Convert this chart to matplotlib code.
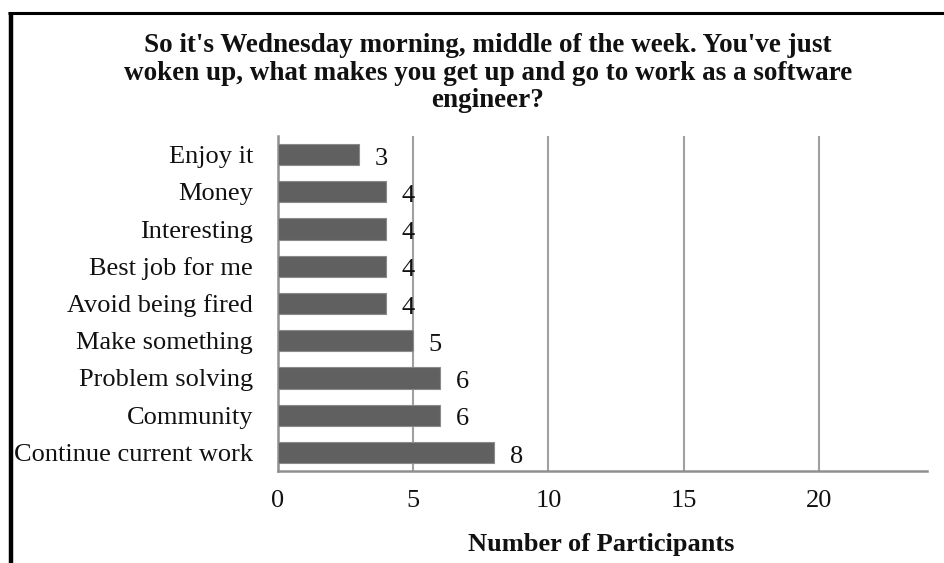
import matplotlib
matplotlib.use("Agg")
import matplotlib.pyplot as plt
from matplotlib.lines import Line2D

plt.rcParams['font.family'] = ['Liberation Serif', 'DejaVu Serif']

# Survey responses, listed top to bottom as shown
reasons = ["Enjoy it", "Money", "Interesting", "Best job for me", "Avoid being fired",
           "Make something", "Problem solving", "Community", "Continue current work"]
participants = [3, 4, 4, 4, 4, 5, 6, 6, 8]
x_ticks = [0, 5, 10, 15, 20]

title = ("So it's Wednesday morning, middle of the week. You've just\n"
         "woken up, what makes you get up and go to work as a software\n"
         "engineer?")
x_title = "Number of Participants"

W, H = 944, 563
fig = plt.figure(figsize=(W / 100, H / 100), dpi=100)
fig.patch.set_facecolor("white")

ax = fig.add_axes([278 / W, 1 - 471 / H, (927 - 278) / W, (471 - 136) / H])

n = len(reasons)
ypos = list(range(n - 1, -1, -1))
ax.barh(ypos, participants, height=0.57, color="#606060",
        edgecolor="#8a8a8a", linewidth=0.8, zorder=3)

for y, v in zip(ypos, participants):
    ax.annotate(str(v), xy=(v, y), xytext=(11, -3), textcoords="offset points",
                ha="left", va="center", fontsize=19, color="#111111", zorder=5)

ax.set_xlim(0, 24)
ax.set_ylim(-0.5, n - 0.5)
ax.set_xticks(x_ticks)
ax.set_xticklabels([str(t) for t in x_ticks])
ax.set_yticks(ypos)
ax.set_yticklabels(reasons)
ax.tick_params(axis="both", length=0, labelsize=19, colors="#111111")
ax.tick_params(axis="x", pad=14)
ax.tick_params(axis="y", pad=18)

ax.xaxis.grid(True, color="#a0a0a0", linewidth=1.5, zorder=0)
ax.yaxis.grid(False)
for side in ("top", "right"):
    ax.spines[side].set_visible(False)
for side in ("left", "bottom"):
    ax.spines[side].set_color("#909090")
    ax.spines[side].set_linewidth(1.8)

fig.text(488 / W, 1 - 73 / H, title, ha="center", va="center", fontsize=19.5,
         fontweight="bold", linespacing=1.14, color="#111111")
fig.text(601 / W, 1 - 544 / H, x_title, ha="center", va="center", fontsize=19,
         fontweight="bold", color="#111111")

# Frame lines along the top and left edges
fig.add_artist(Line2D([10.5 / W, 10.5 / W], [0, 1 - 12 / H], transform=fig.transFigure,
                      color="black", linewidth=3.2, solid_capstyle="butt"))
fig.add_artist(Line2D([8 / W, 1], [1 - 13 / H, 1 - 13 / H], transform=fig.transFigure,
                      color="black", linewidth=2.2, solid_capstyle="butt"))

fig.savefig("out.png", dpi=100)
